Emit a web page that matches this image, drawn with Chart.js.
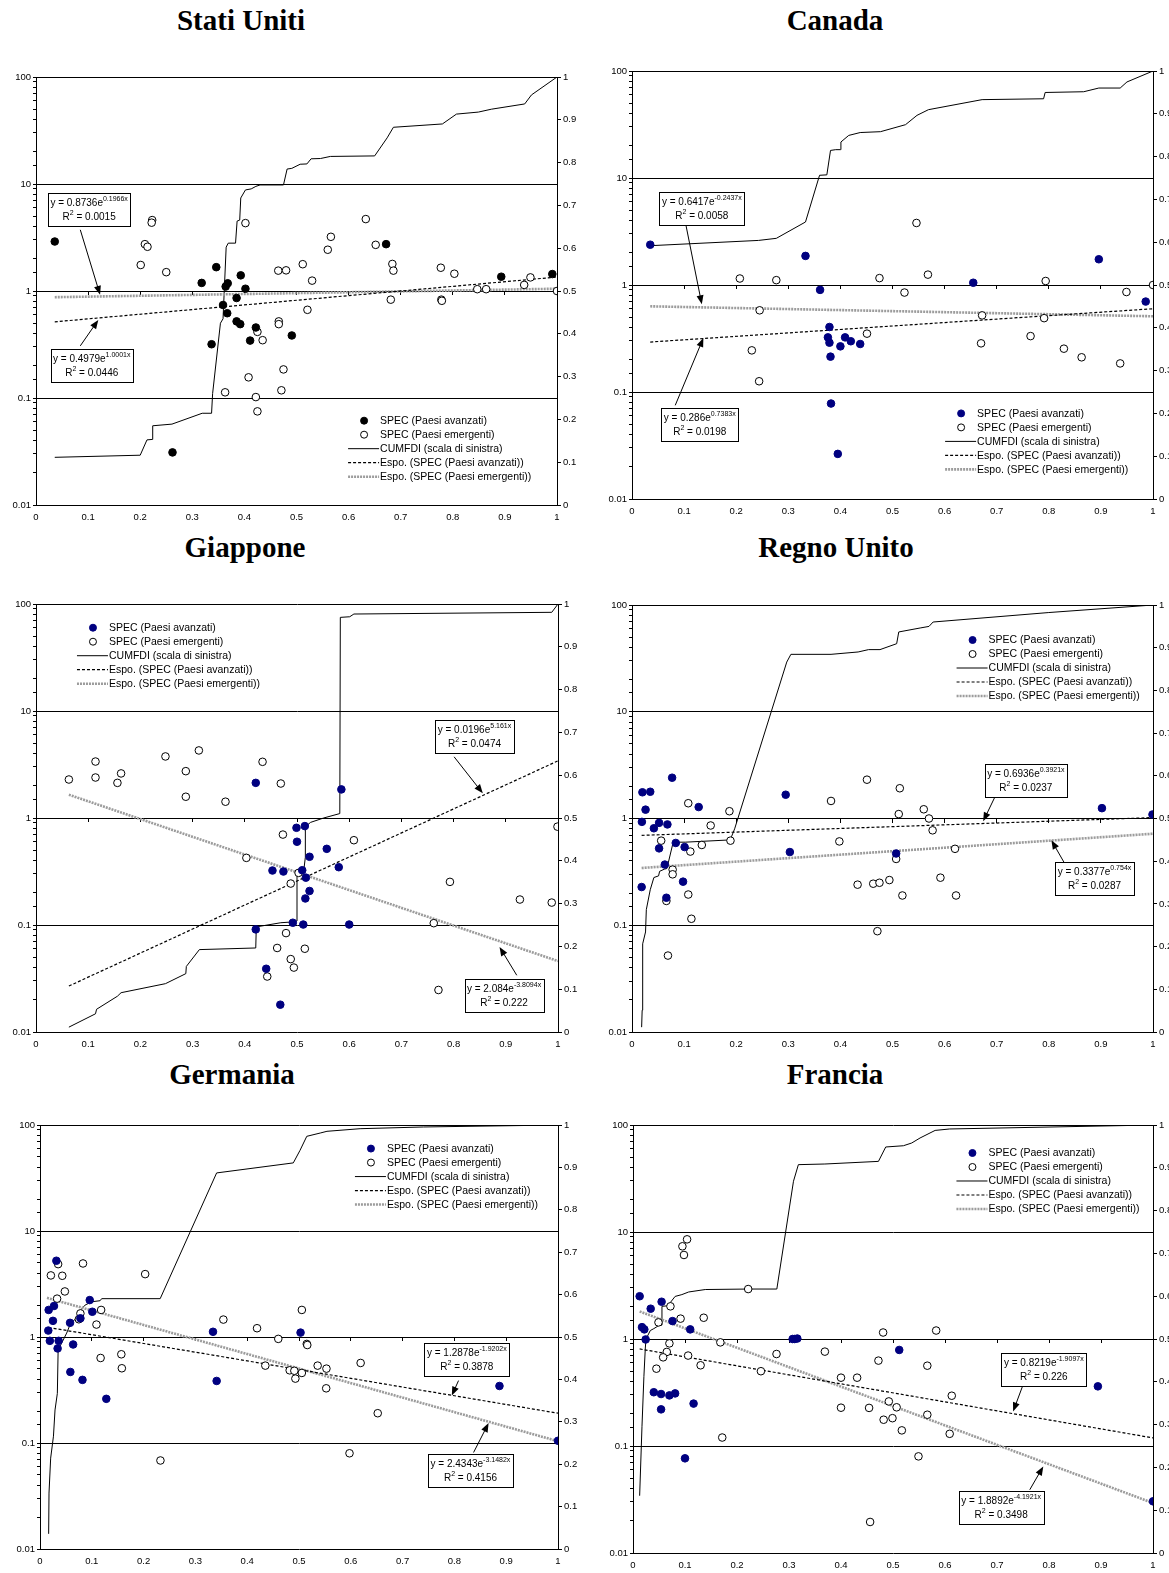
<!DOCTYPE html>
<html>
<head>
<meta charset="utf-8">
<script src="https://cdn.jsdelivr.net/npm/chart.js@4.4.1/dist/chart.umd.min.js"></script>
<style>
  html, body { margin: 0; padding: 0; width: 1169px; height: 1573px; overflow: hidden; background: #fff; }
  .title { position: absolute; width: 400px; text-align: center; font: bold 29px "Liberation Serif", "Times New Roman", serif; line-height: 32px; color: #000; }
  canvas { position: absolute; }
</style>
</head>
<body>
<div class="title" style="left:41px;top:4px">Stati Uniti</div>
<div class="title" style="left:635px;top:4px">Canada</div>
<div class="title" style="left:45px;top:531px">Giappone</div>
<div class="title" style="left:636px;top:531px">Regno Unito</div>
<div class="title" style="left:32px;top:1058px">Germania</div>
<div class="title" style="left:635px;top:1058px">Francia</div>

<canvas id="us"></canvas>
<canvas id="ca"></canvas>
<canvas id="jp"></canvas>
<canvas id="uk"></canvas>
<canvas id="de"></canvas>
<canvas id="fr"></canvas>

<script>
// [x, SPEC] pairs
const usAdv = [[0.036,2.9],[0.262,0.031],[0.318,1.19],[0.337,0.318],[0.346,1.67],[0.359,0.74],[0.364,1.10],[0.368,1.18],[0.367,0.62],[0.385,0.86],[0.393,1.40],[0.402,1.05],[0.385,0.52],[0.392,0.49],[0.411,0.344],[0.422,0.456],[0.491,0.384],[0.672,2.74],[0.893,1.36],[0.991,1.44]];
const usEmg = [[0.201,1.75],[0.209,2.74],[0.214,2.59],[0.223,4.6],[0.222,4.35],[0.250,1.50],[0.363,0.113],[0.402,4.31],[0.408,0.156],[0.422,0.102],[0.425,0.075],[0.425,0.415],[0.435,0.347],[0.465,1.55],[0.480,1.56],[0.466,0.52],[0.466,0.49],[0.475,0.185],[0.471,0.118],[0.512,1.78],[0.521,0.667],[0.530,1.25],[0.560,2.43],[0.566,3.21],[0.633,4.7],[0.652,2.70],[0.684,1.79],[0.686,1.55],[0.681,0.83],[0.777,1.65],[0.778,0.83],[0.779,0.81],[0.803,1.45],[0.847,1.04],[0.864,1.04],[0.937,1.14],[0.949,1.34],[1.0,1.0]];
const usCum = [[0.036,0.0279],[0.200,0.0292],[0.213,0.0406],[0.223,0.041],[0.224,0.055],[0.261,0.057],[0.319,0.072],[0.337,0.072],[0.339,0.11],[0.354,0.50],[0.359,0.55],[0.365,2.57],[0.369,2.8],[0.383,2.8],[0.386,4.5],[0.391,4.6],[0.393,7.4],[0.402,8.8],[0.413,9.0],[0.422,9.5],[0.430,9.8],[0.475,9.8],[0.482,13.8],[0.491,14],[0.507,15.3],[0.520,15.4],[0.528,17.2],[0.546,17.3],[0.565,18.1],[0.650,18.3],[0.674,27],[0.686,33.9],[0.780,36.4],[0.807,45],[0.849,47],[0.874,50],[0.938,56],[0.951,68],[1.0,100]];
const usTrendAdv = [[0.036,0.515],[1,1.35]];
const usTrendEmg = [[0.036,0.875],[1,1.05]];

const caAdv = [[0.035,2.38],[0.333,1.87],[0.361,0.90],[0.379,0.405],[0.376,0.324],[0.379,0.289],[0.381,0.214],[0.382,0.078],[0.395,0.0264],[0.400,0.267],[0.409,0.324],[0.420,0.298],[0.438,0.281],[0.655,1.05],[0.896,1.74],[0.986,0.70]];
const caEmg = [[0.207,1.15],[0.230,0.245],[0.244,0.126],[0.245,0.58],[0.277,1.11],[0.451,0.351],[0.475,1.16],[0.523,0.85],[0.546,3.8],[0.568,1.25],[0.670,0.285],[0.672,0.52],[0.765,0.333],[0.791,0.49],[0.794,1.09],[0.829,0.254],[0.863,0.211],[0.937,0.185],[0.949,0.86],[1.0,1.0]];
const caCum = [[0.035,2.33],[0.243,2.61],[0.277,2.73],[0.333,3.88],[0.360,10.6],[0.374,10.7],[0.381,18.1],[0.391,18.4],[0.400,18.4],[0.401,21.7],[0.416,25],[0.438,26.6],[0.477,27.1],[0.525,31.5],[0.547,38.5],[0.569,43.5],[0.672,54],[0.790,55],[0.793,63],[0.867,64],[0.896,69.3],[0.937,69.3],[0.950,79],[1.0,100]];
const caTrendAdv = [[0.035,0.293],[1,0.60]];
const caTrendEmg = [[0.035,0.632],[1,0.51]];

const jpAdv = [[0.421,2.13],[0.453,0.323],[0.474,0.316],[0.499,0.81],[0.500,0.60],[0.421,0.091],[0.492,0.105],[0.441,0.039],[0.468,0.018],[0.515,0.84],[0.524,0.434],[0.557,0.515],[0.580,0.347],[0.585,1.85],[0.510,0.325],[0.517,0.277],[0.524,0.208],[0.516,0.177],[0.512,0.101],[0.600,0.101]];
const jpEmg = [[0.063,2.29],[0.114,3.37],[0.114,2.39],[0.156,2.13],[0.163,2.61],[0.248,3.76],[0.287,2.74],[0.287,1.58],[0.312,4.28],[0.363,1.42],[0.434,3.35],[0.469,2.10],[0.403,0.424],[0.473,0.70],[0.488,0.244],[0.479,0.084],[0.462,0.061],[0.488,0.048],[0.494,0.040],[0.443,0.033],[0.503,0.307],[0.609,0.62],[0.793,0.253],[0.927,0.173],[0.988,0.162],[0.999,0.83],[0.762,0.104],[0.771,0.0247],[0.515,0.060]];
const jpCum = [[0.063,0.0111],[0.114,0.0148],[0.116,0.0163],[0.156,0.0216],[0.163,0.0233],[0.248,0.0283],[0.287,0.0351],[0.288,0.041],[0.313,0.0589],[0.421,0.061],[0.422,0.096],[0.469,0.105],[0.494,0.107],[0.500,0.109],[0.500,0.292],[0.513,0.325],[0.516,0.43],[0.516,0.83],[0.526,0.91],[0.551,1.0],[0.582,1.1],[0.583,75],[0.601,76],[0.609,80.6],[0.988,83.6],[1.0,100]];
const jpTrendAdv = [[0.063,0.0269],[1,3.42]];
const jpTrendEmg = [[0.063,1.65],[1,0.046]];

const ukAdv = [[0.020,1.76],[0.035,1.78],[0.077,2.41],[0.026,1.21],[0.128,1.28],[0.019,0.93],[0.052,0.91],[0.068,0.88],[0.042,0.81],[0.052,0.525],[0.084,0.59],[0.101,0.54],[0.063,0.37],[0.066,0.181],[0.098,0.256],[0.0185,0.228],[0.295,1.67],[0.303,0.485],[0.507,0.47],[0.902,1.25],[0.999,1.09]];
const ukEmg = [[0.108,1.39],[0.187,1.17],[0.151,0.86],[0.056,0.62],[0.189,0.62],[0.134,0.565],[0.112,0.49],[0.078,0.332],[0.078,0.30],[0.066,0.169],[0.108,0.194],[0.114,0.115],[0.069,0.052],[0.382,1.46],[0.398,0.61],[0.451,2.31],[0.433,0.24],[0.463,0.245],[0.475,0.25],[0.471,0.088],[0.494,0.265],[0.507,0.418],[0.512,1.1],[0.514,1.92],[0.560,1.22],[0.570,1.0],[0.577,0.775],[0.620,0.52],[0.592,0.279],[0.519,0.19],[0.622,0.19]];
const ukCum = [[0.0185,0.0111],[0.0195,0.016],[0.0205,0.067],[0.026,0.0865],[0.0275,0.14],[0.035,0.215],[0.042,0.28],[0.051,0.29],[0.053,0.32],[0.062,0.335],[0.067,0.34],[0.078,0.57],[0.083,0.6],[0.102,0.6],[0.1885,0.63],[0.197,0.80],[0.297,29.2],[0.305,34.5],[0.382,34.5],[0.434,36.3],[0.454,38.2],[0.476,38.2],[0.508,43.4],[0.512,55.9],[0.553,60.9],[0.570,63],[0.578,69.3],[0.8,85],[1.0,100]];
const ukTrendAdv = [[0.0185,0.695],[1,1.02]];
const ukTrendEmg = [[0.0185,0.344],[1,0.72]];

const deAdv = [[0.0316,5.24],[0.0167,1.80],[0.027,1.96],[0.016,1.15],[0.025,1.42],[0.019,0.92],[0.036,0.92],[0.034,0.78],[0.058,1.36],[0.064,0.85],[0.0586,0.468],[0.082,0.394],[0.128,0.261],[0.096,2.23],[0.101,1.73],[0.078,1.50],[0.334,1.12],[0.341,0.385],[0.503,1.10],[0.887,0.345],[1.0,0.105]];
const deEmg = [[0.021,3.81],[0.035,4.87],[0.043,3.78],[0.083,4.94],[0.048,2.69],[0.033,2.30],[0.078,1.67],[0.075,1.47],[0.118,1.80],[0.109,1.31],[0.117,0.634],[0.157,0.687],[0.158,0.507],[0.203,3.92],[0.2325,0.0684],[0.354,1.46],[0.419,1.21],[0.460,0.96],[0.435,0.537],[0.482,0.485],[0.491,0.48],[0.493,0.405],[0.5055,1.80],[0.515,0.86],[0.516,0.84],[0.5055,0.458],[0.536,0.537],[0.553,0.503],[0.5525,0.328],[0.619,0.569],[0.652,0.191],[0.5975,0.080]];
const deCum = [[0.0167,0.0139],[0.0174,0.0337],[0.0206,0.072],[0.026,0.116],[0.029,0.205],[0.0335,0.294],[0.035,0.755],[0.042,0.88],[0.0515,1.09],[0.059,1.34],[0.068,1.47],[0.077,1.6],[0.0786,1.8],[0.087,2.0],[0.100,2.15],[0.116,2.2],[0.119,2.3],[0.232,2.3],[0.341,35.3],[0.489,43.9],[0.502,57.7],[0.515,78.2],[0.541,84],[0.554,87.2],[0.618,92.3],[0.740,95.8],[1.0,100]];
const deTrendAdv = [[0.0167,1.23],[1,0.191]];
const deTrendEmg = [[0.0135,2.34],[1,0.104]];

const frAdv = [[0.0128,2.51],[0.0173,1.29],[0.0218,1.23],[0.034,1.92],[0.055,2.23],[0.0243,0.99],[0.076,1.47],[0.110,1.23],[0.040,0.318],[0.054,0.306],[0.070,0.297],[0.081,0.31],[0.054,0.22],[0.1165,0.249],[0.100,0.0767],[0.307,1.0],[0.311,1.0],[0.316,1.01],[0.512,0.79],[0.894,0.361],[1.0,0.0304]];
const frEmg = [[0.104,8.54],[0.095,7.35],[0.098,6.1],[0.072,2.02],[0.0915,1.55],[0.136,1.58],[0.049,1.43],[0.2215,2.93],[0.168,0.93],[0.070,0.91],[0.065,0.757],[0.058,0.674],[0.106,0.70],[0.045,0.528],[0.130,0.568],[0.276,0.724],[0.246,0.50],[0.1716,0.12],[0.369,0.762],[0.400,0.435],[0.431,0.435],[0.400,0.228],[0.454,0.227],[0.472,0.628],[0.481,1.15],[0.482,0.176],[0.456,0.0195],[0.583,1.20],[0.566,0.563],[0.613,0.295],[0.492,0.261],[0.507,0.23],[0.499,0.182],[0.517,0.14],[0.566,0.196],[0.609,0.13],[0.549,0.080]];
const frCum = [[0.0128,0.0343],[0.0173,0.153],[0.021,0.448],[0.0237,0.824],[0.025,1.0],[0.0333,1.2],[0.040,1.25],[0.049,1.33],[0.0557,1.35],[0.0557,2.02],[0.070,2.05],[0.072,2.2],[0.081,2.5],[0.094,2.6],[0.107,2.75],[0.139,2.9],[0.222,2.93],[0.2766,2.93],[0.3086,29.8],[0.318,42.6],[0.369,43.2],[0.472,45.7],[0.486,62.3],[0.520,64],[0.536,67.9],[0.552,75.6],[0.581,89],[0.609,91.8],[1.0,100]];
const frTrendAdv = [[0.0128,0.807],[1,0.119]];
const frTrendEmg = [[0.0128,1.81],[1,0.0293]];

const legendLabels = ['SPEC (Paesi avanzati)', 'SPEC (Paesi emergenti)', 'CUMFDI (scala di sinistra)',
  'Espo. (SPEC (Paesi avanzati))', 'Espo. (SPEC (Paesi emergenti))'];

const FONT = '"Liberation Sans", Arial, sans-serif';
const NAVY = '#000080';
const GREY = '#9c9c9c';

// area = [left, top, width, height] of the plot frame on the page
const panels = [
  { id: 'us', area: [36, 77, 521, 428], adv: usAdv, emg: usEmg, cum: usCum, tAdv: usTrendAdv, tEmg: usTrendEmg, advColor: '#000',
    legend: [0.599, 0.803],
    notes: [
      { a: '0.8736', b: '0.1966', r: '0.0015', at: [0.102, 5.74], from: [0.085, 3.73], to: [0.123, 0.92] },
      { a: '0.4979', b: '1.0001', r: '0.0446', at: [0.107, 0.2], from: [0.085, 0.307], to: [0.1196, 0.537] }
    ] },
  { id: 'ca', area: [632, 71, 521, 428], adv: caAdv, emg: caEmg, cum: caCum, tAdv: caTrendAdv, tEmg: caTrendEmg, advColor: NAVY,
    legend: [0.601, 0.80],
    notes: [
      { a: '0.6417', b: '-0.2437', r: '0.0058', at: [0.134, 5.21], from: [0.1036, 3.61], to: [0.134, 0.66] },
      { a: '0.286', b: '0.7383', r: '0.0198', at: [0.130, 0.0496], from: [0.083, 0.0751], to: [0.137, 0.32] }
    ] },
  { id: 'jp', area: [36, 604, 522, 428], adv: jpAdv, emg: jpEmg, cum: jpCum, tAdv: jpTrendAdv, tEmg: jpTrendEmg, advColor: NAVY,
    legend: [0.0785, 0.0554],
    notes: [
      { a: '0.0196', b: '5.161', r: '0.0474', at: [0.840, 5.74], from: [0.801, 3.73], to: [0.856, 1.70] },
      { a: '2.084', b: '-3.8094', r: '0.222', at: [0.8966, 0.022], from: [0.921, 0.0339], to: [0.888, 0.0624] }
    ] },
  { id: 'uk', area: [632, 605, 521, 427], adv: ukAdv, emg: ukEmg, cum: ukCum, tAdv: ukTrendAdv, tEmg: ukTrendEmg, advColor: NAVY,
    legend: [0.623, 0.082],
    notes: [
      { a: '0.6936', b: '0.3921', r: '0.0237', at: [0.756, 2.25], from: [0.6965, 1.59], to: [0.674, 0.94] },
      { a: '0.3377', b: '0.754', r: '0.0287', at: [0.8877, 0.275], from: [0.829, 0.39], to: [0.805, 0.625] }
    ] },
  { id: 'de', area: [40, 1125, 518, 424], adv: deAdv, emg: deEmg, cum: deCum, tAdv: deTrendAdv, tEmg: deTrendEmg, advColor: NAVY,
    legend: [0.608, 0.0556],
    notes: [
      { a: '1.2878', b: '-1.9202', r: '0.3878', at: [0.824, 0.608], from: [0.808, 0.388], to: [0.795, 0.28] },
      { a: '2.4343', b: '-3.1482', r: '0.4156', at: [0.831, 0.055], from: [0.837, 0.0814], to: [0.866, 0.154] }
    ] },
  { id: 'fr', area: [633, 1125, 520, 428], adv: frAdv, emg: frEmg, cum: frCum, tAdv: frTrendAdv, tEmg: frTrendEmg, advColor: NAVY,
    legend: [0.622, 0.0654],
    notes: [
      { a: '0.8219', b: '-1.9097', r: '0.226', at: [0.790, 0.519], from: [0.750, 0.372], to: [0.731, 0.21] },
      { a: '1.8892', b: '-4.1921', r: '0.3498', at: [0.708, 0.0268], from: [0.763, 0.039], to: [0.789, 0.0645] }
    ] }
];

function isDecade(v) {
  const l = Math.log10(v);
  return Math.abs(l - Math.round(l)) < 1e-6;
}
function pts(arr) { return arr.map(p => ({ x: p[0], y: p[1] })); }

// text with a superscript part, drawn left to right
function drawRich(ctx, parts, x, y) {
  let cx = x;
  parts.forEach(p => {
    ctx.font = (p.sup ? '7px ' : '10px ') + FONT;
    ctx.fillText(p.t, cx, p.sup ? y - 4 : y);
    cx += ctx.measureText(p.t).width;
  });
}
function richWidth(ctx, parts) {
  let w = 0;
  parts.forEach(p => {
    ctx.font = (p.sup ? '7px ' : '10px ') + FONT;
    w += ctx.measureText(p.t).width;
  });
  return w;
}

const notesPlugin = {
  id: 'notes',
  afterDraw(chart, args, opts) {
    const { ctx, scales } = chart;
    ctx.save();
    ctx.textBaseline = 'middle';
    (opts.items || []).forEach(n => {
      // arrow
      const x1 = scales.x.getPixelForValue(n.from[0]), y1 = scales.y.getPixelForValue(n.from[1]);
      const x2 = scales.x.getPixelForValue(n.to[0]), y2 = scales.y.getPixelForValue(n.to[1]);
      const ang = Math.atan2(y2 - y1, x2 - x1);
      ctx.strokeStyle = '#000';
      ctx.fillStyle = '#000';
      ctx.lineWidth = 1;
      ctx.beginPath();
      ctx.moveTo(x1, y1);
      ctx.lineTo(x2 - 6 * Math.cos(ang), y2 - 6 * Math.sin(ang));
      ctx.stroke();
      ctx.beginPath();
      ctx.moveTo(x2, y2);
      ctx.lineTo(x2 - 9 * Math.cos(ang) + 3.5 * Math.sin(ang), y2 - 9 * Math.sin(ang) - 3.5 * Math.cos(ang));
      ctx.lineTo(x2 - 9 * Math.cos(ang) - 3.5 * Math.sin(ang), y2 - 9 * Math.sin(ang) + 3.5 * Math.cos(ang));
      ctx.closePath();
      ctx.fill();

      // box
      const line1 = [{ t: 'y = ' + n.a + 'e' }, { t: n.b + 'x', sup: true }];
      const line2 = [{ t: 'R' }, { t: '2', sup: true }, { t: ' = ' + n.r }];
      const w1 = richWidth(ctx, line1), w2 = richWidth(ctx, line2);
      const bw = Math.round(Math.max(w1, w2) + 5), bh = 33;
      const cx = scales.x.getPixelForValue(n.at[0]), cy = scales.y.getPixelForValue(n.at[1]);
      const bx = Math.round(cx - bw / 2) + 0.5, by = Math.round(cy - bh / 2) + 0.5;
      ctx.fillStyle = '#fff';
      ctx.fillRect(bx, by, bw, bh);
      ctx.strokeRect(bx, by, bw, bh);
      ctx.fillStyle = '#000';
      drawRich(ctx, line1, cx - w1 / 2, by + 10);
      drawRich(ctx, line2, cx - w2 / 2, by + 24);
    });
    ctx.restore();
  }
};

const legendPlugin = {
  id: 'specLegend',
  afterDraw(chart, args, opts) {
    const { ctx, chartArea } = chart;
    const x = chartArea.left + opts.pos[0] * (chartArea.right - chartArea.left);
    const y0 = chartArea.top + opts.pos[1] * (chartArea.bottom - chartArea.top);
    const ds = chart.data.datasets;
    ctx.save();
    ctx.textBaseline = 'middle';
    ctx.font = '10.5px ' + FONT;
    legendLabels.forEach((label, i) => {
      const y = y0 + i * 14;
      const d = ds[i];
      if (i < 2) {
        ctx.beginPath();
        ctx.arc(x + 16, y, 3.5, 0, Math.PI * 2);
        ctx.fillStyle = d.pointBackgroundColor;
        ctx.fill();
        ctx.lineWidth = 1;
        ctx.strokeStyle = d.pointBorderColor;
        ctx.stroke();
      } else {
        ctx.beginPath();
        ctx.setLineDash(d.borderDash || []);
        ctx.lineWidth = d.borderWidth;
        ctx.strokeStyle = d.borderColor;
        ctx.moveTo(x, y);
        ctx.lineTo(x + 31, y);
        ctx.stroke();
        ctx.setLineDash([]);
      }
      ctx.fillStyle = '#000';
      ctx.fillText(label, x + 32, y + 0.5);
    });
    ctx.restore();
  }
};

const tickFont = { family: FONT, size: 9.5 };

function makePanel(p) {
  const [left, top, w, h] = p.area;
  const cv = document.getElementById(p.id);
  cv.width = w + 66;
  cv.height = h + 32;
  cv.style.left = (left - 36) + 'px';
  cv.style.top = (top - 8) + 'px';

  new Chart(cv, {
    type: 'scatter',
    data: {
      datasets: [
        { data: pts(p.adv), showLine: false, pointRadius: 3.8, pointBackgroundColor: p.advColor,
          pointBorderColor: p.advColor, pointBorderWidth: 1, order: 1, xAxisID: 'x', yAxisID: 'y' },
        { data: pts(p.emg), showLine: false, pointRadius: 3.8, pointBackgroundColor: '#fff',
          pointBorderColor: '#000', pointBorderWidth: 1, order: 2, xAxisID: 'x', yAxisID: 'y' },
        { data: pts(p.cum), showLine: true, pointRadius: 0, borderColor: '#000', borderWidth: 1,
          tension: 0, order: 5, xAxisID: 'x', yAxisID: 'y' },
        { data: pts(p.tAdv), showLine: true, pointRadius: 0, borderColor: '#000', borderWidth: 1.2,
          borderDash: [3, 2], order: 3, xAxisID: 'x', yAxisID: 'y' },
        { data: pts(p.tEmg), showLine: true, pointRadius: 0, borderColor: GREY, borderWidth: 2.6,
          borderDash: [2, 1], order: 4, xAxisID: 'x', yAxisID: 'y' }
      ]
    },
    options: {
      responsive: false,
      animation: false,
      events: [],
      layout: { padding: { top: 8, left: 0, right: 0, bottom: 0 } },
      plugins: {
        legend: { display: false },
        tooltip: { enabled: false },
        notes: { items: p.notes },
        specLegend: { pos: p.legend }
      },
      scales: {
        x: {
          type: 'linear', position: 'bottom', min: 0, max: 1,
          ticks: { stepSize: 0.1, autoSkip: false, maxRotation: 0, padding: 7, color: '#000', font: tickFont,
                   callback: v => String(+v.toFixed(1)) },
          grid: { drawOnChartArea: false, drawTicks: false },
          border: { display: false },
          afterFit: s => { s.height = 24; }
        },
        xm: {
          type: 'linear', axis: 'x', position: { y: 1 }, min: 0, max: 1,
          ticks: { display: false, stepSize: 0.1 },
          grid: { drawOnChartArea: false, drawTicks: true, tickLength: 4, color: '#000' },
          border: { display: false }
        },
        y: {
          type: 'logarithmic', position: 'left', min: 0.01, max: 100,
          ticks: { autoSkip: false, padding: 2, color: '#000', font: tickFont,
                   callback: v => isDecade(v) ? String(+Number(v).toPrecision(1)) : '' },
          grid: { color: c => (c.tick && isDecade(c.tick.value)) ? '#000' : 'rgba(0,0,0,0)',
                  tickColor: '#000', tickLength: 3, lineWidth: 1 },
          border: { color: '#000' },
          afterFit: s => { s.width = 36; }
        },
        y2: {
          type: 'linear', position: 'right', min: 0, max: 1,
          ticks: { stepSize: 0.1, autoSkip: false, padding: 2, color: '#000', font: tickFont,
                   callback: v => String(+v.toFixed(1)) },
          grid: { drawOnChartArea: false, tickColor: '#000', tickLength: 4 },
          border: { color: '#000' },
          afterFit: s => { s.width = 30; }
        }
      }
    },
    plugins: [notesPlugin, legendPlugin]
  });
}

panels.forEach(makePanel);
</script>
</body>
</html>
